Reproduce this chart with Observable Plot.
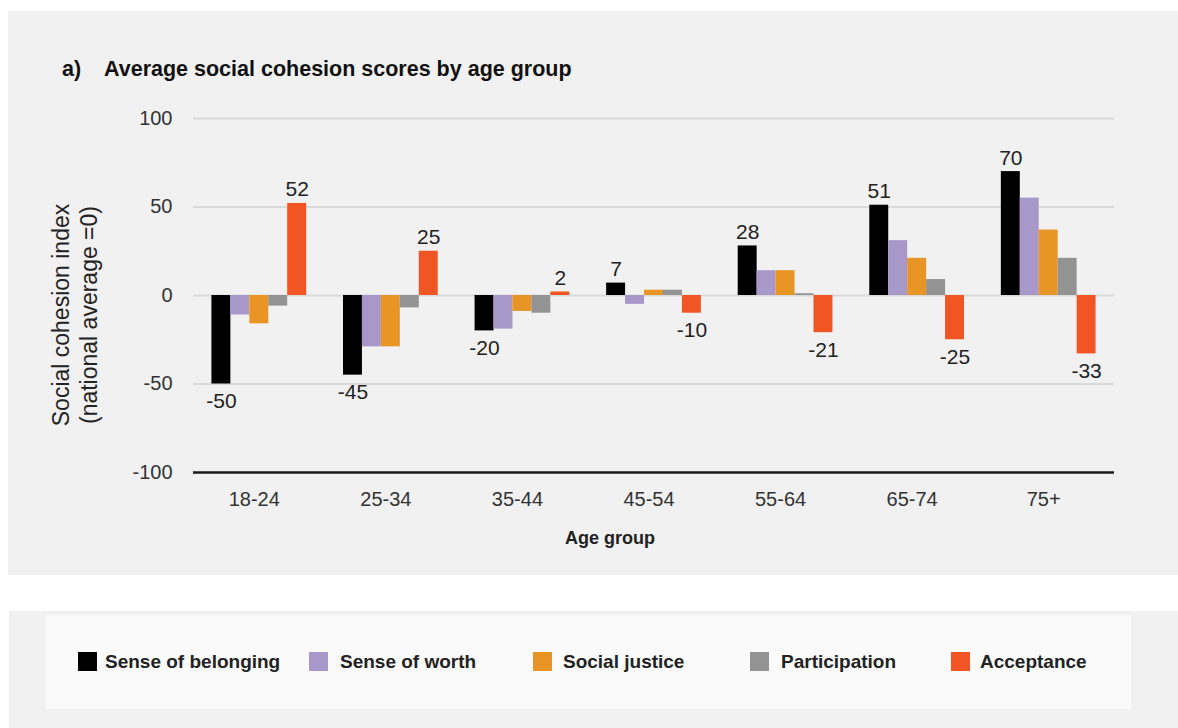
<!DOCTYPE html>
<html>
<head>
<meta charset="utf-8">
<script src="https://cdn.jsdelivr.net/npm/d3@7"></script>
<script src="https://cdn.jsdelivr.net/npm/@observablehq/plot@0.6"></script>
<style>
  body { margin: 0; background: #ffffff; font-family: "Liberation Sans", Arial, sans-serif; }
  #wrap { position: relative; width: 1178px; height: 728px; overflow: hidden; }
  #panel { position: absolute; left: 8px; top: 11px; width: 1170px; height: 564px; background: #f1f1f1; }
  #legpanel { position: absolute; left: 9px; top: 611px; width: 1169px; height: 117px; background: #f1f1f1; }
  #legbox { position: absolute; left: 46px; top: 615px; width: 1085px; height: 94px; background: #fafafa; }
  .abs { position: absolute; white-space: nowrap; }
  .title { font-weight: bold; font-size: 21.5px; line-height: 21.5px; color: #111; top: 59px; }
  #ylabel { left: 75px; top: 315px; transform: translate(-50%, -50%) rotate(-90deg); font-size: 23px; line-height: 28px; text-align: center; color: #222; }
  #xlabel { left: 610px; top: 529px; transform: translateX(-50%); font-size: 18px; line-height: 18px; font-weight: bold; color: #222; }
  .plot { position: absolute; left: 0; top: 0; }
  .sw { position: absolute; width: 19px; height: 19px; top: 652px; }
  .lt { position: absolute; top: 652px; font-size: 19px; line-height: 19px; font-weight: bold; color: #222; white-space: nowrap; }
</style>
</head>
<body>
<div id="wrap">
  <div id="panel"></div>
  <div id="legpanel"></div>
  <div id="legbox"></div>
  <div class="abs title" style="left:62px">a)</div>
  <div class="abs title" style="left:104px">Average social cohesion scores by age group</div>
  <div id="ylabel" class="abs">Social cohesion index<br>(national average =0)</div>
  <div id="xlabel" class="abs">Age group</div>
</div>
<script>
const groups = ["18-24", "25-34", "35-44", "45-54", "55-64", "65-74", "75+"];
const series = ["Sense of belonging", "Sense of worth", "Social justice", "Participation", "Acceptance"];
const belonging = [-50, -45, -20, 7, 28, 51, 70];
const worth = [-11, -29, -19, -5, 14, 31, 55];
const justice = [-16, -29, -9, 3, 14, 21, 37];
const participation = [-6, -7, -10, 3, 1, 9, 21];
const acceptance = [52, 25, 2, -10, -21, -25, -33];
const colors = ["#000000", "#a898c9", "#e99526", "#939394", "#f05523"];
const labelledSeries = ["Sense of belonging", "Acceptance"];
const yTicks = [-100, -50, 0, 50, 100];
const gridValues = [-50, 0, 50, 100];
const legendSwatchX = [78, 309, 533, 750, 951];
const legendTextX = [105, 340, 563, 781, 980];

const seriesValues = [belonging, worth, justice, participation, acceptance];
const rows = [];
series.forEach((s, si) => {
  groups.forEach((g, gi) => rows.push({group: g, series: s, value: seriesValues[si][gi]}));
});
const labelled = rows.filter(d => labelledSeries.includes(d.series));

const W = 1178, H = 580;
const margins = {marginLeft: 193, marginRight: 64, marginTop: 118, marginBottom: 108};
const font = {background: "transparent", fontFamily: "'Liberation Sans', Arial, sans-serif", overflow: "visible"};

const bg = Plot.plot({
  width: W, height: H, ...margins,
  y: {domain: [-100, 100]},
  style: font,
  marks: [
    Plot.ruleY(gridValues, {stroke: "#dadada", strokeWidth: 2}),
    Plot.ruleY([-100], {stroke: "#1a1a1a", strokeWidth: 2.5}),
    Plot.axisY(yTicks, {tickSize: 0, tickPadding: 21, label: null, fontSize: 20, fill: "#333", tickFormat: d => String(d)})
  ]
});
bg.classList.add("plot");

const fg = Plot.plot({
  width: W, height: H, ...margins,
  fx: {domain: groups, paddingInner: 0.28, paddingOuter: 0.14, round: false, label: null},
  x: {domain: series, padding: 0, round: false, axis: null},
  y: {domain: [-100, 100], axis: null},
  color: {domain: series, range: colors},
  style: font,
  marks: [
    Plot.barY(rows, {fx: "group", x: "series", y: "value", fill: "series"}),
    Plot.text(labelled.filter(d => d.value >= 0), {fx: "group", x: "series", y: "value", text: d => String(d.value), lineAnchor: "bottom", dy: -7, fontSize: 21, fill: "#222"}),
    Plot.text(labelled.filter(d => d.value < 0), {fx: "group", x: "series", y: "value", text: d => String(d.value), lineAnchor: "top", dy: 9, fontSize: 21, fill: "#222"}),
    Plot.axisFx({anchor: "bottom", tickSize: 0, tickPadding: 19, dx: -5, fontSize: 20, fill: "#333", label: null})
  ]
});
fg.classList.add("plot");

const wrap = document.getElementById("wrap");
wrap.appendChild(bg);
wrap.appendChild(fg);

series.forEach((s, i) => {
  const sw = document.createElement("div");
  sw.className = "sw";
  sw.style.left = legendSwatchX[i] + "px";
  sw.style.background = colors[i];
  wrap.appendChild(sw);
  const t = document.createElement("div");
  t.className = "lt";
  t.style.left = legendTextX[i] + "px";
  t.textContent = s;
  wrap.appendChild(t);
});
</script>
</body>
</html>
